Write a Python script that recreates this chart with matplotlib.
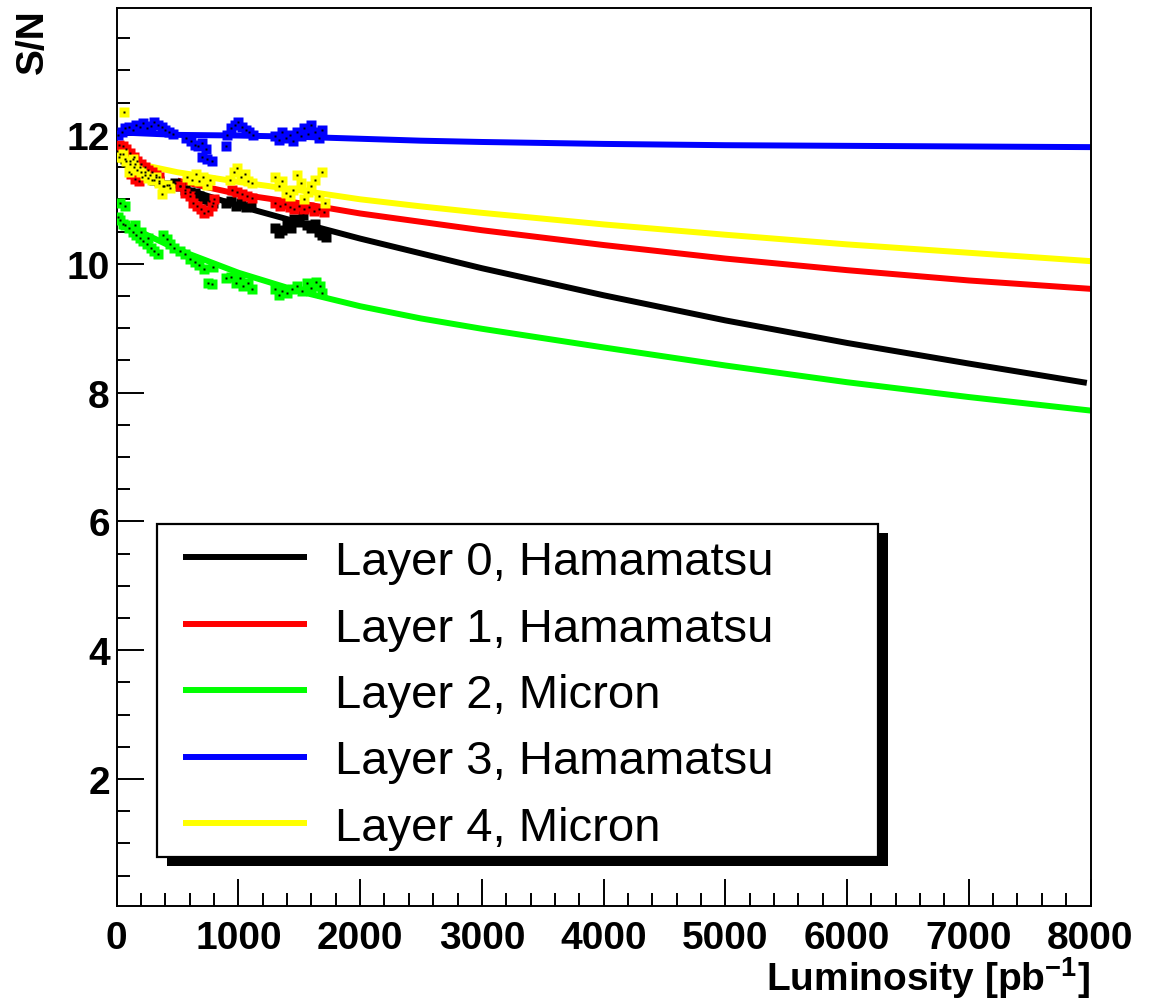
import matplotlib
matplotlib.use("Agg")
import matplotlib.pyplot as plt
from matplotlib.ticker import MultipleLocator
from matplotlib.patches import Rectangle
from matplotlib.lines import Line2D

plt.rcParams['font.family'] = ['Liberation Sans', 'DejaVu Sans']
plt.rcParams['mathtext.fontset'] = 'custom'
plt.rcParams['mathtext.rm'] = 'Liberation Sans'
plt.rcParams['mathtext.bf'] = 'Liberation Sans:bold'

# ---- measured S/N per run period ----
lumi_l0 = [30, 70, 110, 150, 190, 230, 270, 310, 350, 390, 430,
           480, 520, 560, 600, 640, 680, 720, 760, 790,
           900, 940, 980, 1020, 1060, 1100,
           1300, 1330, 1360, 1400, 1430, 1460, 1500, 1530, 1560, 1600, 1630, 1660, 1690, 1720]
sn_l0 = [11.7, 11.62, 11.6, 11.55, 11.5, 11.42, 11.38, 11.3, 11.28, 11.2, 11.22,
         11.25, 11.2, 11.15, 11.12, 11.1, 11.05, 11.0, 10.98, 10.95,
         10.95, 10.98, 10.9, 10.95, 10.88, 10.9,
         10.55, 10.48, 10.52, 10.6, 10.55, 10.7, 10.65, 10.75, 10.6, 10.55, 10.62, 10.5, 10.45, 10.42]

lumi_l1 = [20, 50, 80, 110, 140, 170, 200, 230, 260, 290, 320, 350, 120, 150, 180, 210,
           520, 560, 600, 630, 660, 690, 720, 750, 780, 800,
           950, 990, 1030, 1070, 1110,
           1300, 1340, 1380, 1420, 1460, 1500, 1540, 1580, 1620, 1660, 1700]
sn_l1 = [11.85, 11.82, 11.78, 11.72, 11.65, 11.6, 11.55, 11.5, 11.45, 11.42, 11.38, 11.35, 11.4, 11.32, 11.28, 11.35,
         11.2, 11.1, 11.05, 10.95, 10.9, 10.85, 10.78, 10.82, 10.9, 11.0,
         11.15, 11.12, 11.08, 11.05, 11.02,
         10.95, 10.9, 10.92, 10.88, 10.85, 10.9, 10.85, 10.88, 10.82, 10.85, 10.8]

lumi_l2 = [30, 70,
           10, 30, 50, 70, 100, 130, 160, 190, 220, 250, 280, 310, 340, 200, 380, 410, 440, 470, 150, 260,
           520, 560, 600, 640, 680, 720, 750, 780, 790,
           900, 940, 980, 1010, 1040, 1080, 1110,
           1300, 1330, 1360, 1400, 1440, 1480, 1520, 1560, 1600, 1640, 1670, 1690]
sn_l2 = [10.95, 10.9,
         10.72, 10.68, 10.62, 10.6, 10.55, 10.5, 10.45, 10.4, 10.35, 10.3, 10.25, 10.2, 10.15, 10.5, 10.45, 10.38, 10.3, 10.25, 10.6, 10.4,
         10.2, 10.15, 10.08, 10.02, 9.98, 9.92, 9.7, 9.68, 9.95,
         9.78, 9.8, 9.7, 9.78, 9.65, 9.7, 9.6,
         9.6, 9.52, 9.58, 9.55, 9.6, 9.65, 9.58, 9.7, 9.62, 9.72, 9.65, 9.55]

lumi_l3 = [10, 40, 70, 100, 130, 160, 190, 220, 250, 280, 310, 340, 370, 400, 430, 460,
           570, 610, 640, 670, 700, 730, 700, 740, 780, 900,
           910, 940, 970, 1000, 1030, 1060, 1090, 1120,
           1300, 1330, 1360, 1390, 1420, 1450, 1480, 1510, 1540, 1570, 1600, 1630, 1660, 1690]
sn_l3 = [12.0, 12.05, 12.1, 12.12, 12.08, 12.15, 12.12, 12.18, 12.1, 12.14, 12.2, 12.15, 12.12, 12.08, 12.05, 12.02,
         11.95, 11.9, 11.85, 11.82, 11.88, 11.78, 11.65, 11.62, 11.6, 11.82,
         12.0, 12.1, 12.15, 12.2, 12.12, 12.08, 12.05, 12.0,
         11.98, 11.92, 12.05, 11.95, 12.0, 11.9, 12.05, 11.98, 12.1, 12.02, 12.15, 12.05, 11.95, 12.08]

lumi_l4 = [60, 20, 50, 80, 110, 140, 170, 200, 230, 260, 290, 320, 350, 380, 410, 440, 370, 100, 130,
           580, 620, 650, 680, 710, 740, 770,
           930, 960, 990, 1020, 1050, 1080, 1110,
           1300, 1330, 1360, 1390, 1420, 1450, 1480, 1510, 1540, 1570, 1600, 1630, 1660, 1690, 1710]
sn_l4 = [12.35, 11.65, 11.7, 11.6, 11.55, 11.5, 11.45, 11.42, 11.38, 11.33, 11.3, 11.35, 11.25, 11.2, 11.22, 11.18, 11.08, 11.42, 11.62,
         11.35, 11.3, 11.4, 11.28, 11.35, 11.22, 11.3,
         11.3, 11.42, 11.48, 11.35, 11.4, 11.28, 11.25,
         11.35, 11.2, 11.28, 11.1, 11.05, 11.15, 11.38, 11.25, 11.0, 11.12, 11.2, 11.3, 11.05, 11.42, 10.95]

# ---- extrapolated fits ----
fit_lumi_l0 = [500, 1000, 1500, 2000, 3000, 4000, 5000, 6000, 7000, 7970]
fit_sn_l0 = [11.2, 10.9, 10.64, 10.39, 9.93, 9.51, 9.12, 8.77, 8.45, 8.15]
fit_lumi_l1 = [500, 1000, 1500, 2000, 3000, 4000, 5000, 6000, 7000, 8000]
fit_sn_l1 = [11.29, 11.08, 10.94, 10.78, 10.52, 10.29, 10.08, 9.90, 9.74, 9.61]
fit_lumi = [0, 500, 1000, 1500, 2000, 2500, 3000, 4000, 5000, 6000, 7000, 8000]
fit_sn_l2 = [10.67, 10.22, 9.86, 9.57, 9.34, 9.15, 8.99, 8.70, 8.42, 8.16, 7.93, 7.72]
fit_sn_l3 = [12.04, 12.0, 11.99, 11.97, 11.94, 11.91, 11.89, 11.86, 11.84, 11.83, 11.82, 11.81]
fit_sn_l4 = [11.62, 11.42, 11.27, 11.14, 11.0, 10.89, 10.79, 10.61, 10.45, 10.30, 10.17, 10.04]

labels = ["Layer 0, Hamamatsu", "Layer 1, Hamamatsu", "Layer 2, Micron",
          "Layer 3, Hamamatsu", "Layer 4, Micron"]
colors = ["#000000", "#ff0000", "#00ff00", "#0000ff", "#ffff00"]

data = [(lumi_l0, sn_l0), (lumi_l1, sn_l1), (lumi_l2, sn_l2), (lumi_l3, sn_l3), (lumi_l4, sn_l4)]
fits = [(fit_lumi_l0, fit_sn_l0), (fit_lumi_l1, fit_sn_l1), (fit_lumi, fit_sn_l2),
        (fit_lumi, fit_sn_l3), (fit_lumi, fit_sn_l4)]

W, H = 1152, 1004
fig = plt.figure(figsize=(W / 100, H / 100), dpi=100)


def fx(px):
    return px / W


def fy(py):
    return 1 - py / H


ax = fig.add_axes([fx(116.7), fy(906.7), fx(1090.5) - fx(116.7), fy(9) - fy(906.7)])

for (fl, fs), c in zip(fits, colors):
    ax.plot(fl, fs, color=c, lw=4.3, solid_capstyle='butt', zorder=2)

for (dl, ds), c in zip(data, colors):
    ax.plot(dl, ds, ls='none', marker='s', ms=6.5, mec='none', mfc=c, zorder=3)
    ax.plot(dl, ds, ls='none', marker='s', ms=1.6, mec='none', mfc='black', zorder=4)

ax.set_xlim(0, 8000)
ax.set_ylim(0.033, 13.97)
ax.xaxis.set_major_locator(MultipleLocator(1000))
ax.xaxis.set_minor_locator(MultipleLocator(200))
ax.yaxis.set_major_locator(MultipleLocator(2))
ax.yaxis.set_minor_locator(MultipleLocator(0.5))
ax.tick_params(which='both', direction='in', top=False, right=False, width=1.4)
ax.tick_params(which='major', length=19.5)
ax.tick_params(which='minor', length=9.5)
ax.tick_params(axis='x', which='major', pad=10, labelsize=28)
ax.tick_params(axis='y', which='major', pad=5, labelsize=28)
for lab in ax.get_xticklabels() + ax.get_yticklabels():
    lab.set_fontweight('bold')
for sp in ax.spines.values():
    sp.set_linewidth(1.4)

fig.text(fx(1090), fy(991), r'Luminosity [pb$^{\mathbf{-1}}$]', ha='right', va='baseline',
         fontsize=28, fontweight='bold')
fig.text(fx(33), fy(9), 'S/N', rotation=90, ha='center', va='top', fontsize=28, fontweight='bold')

# legend box with drop shadow
box_l, box_r, box_t, box_b = 156.5, 877.5, 524.5, 857.5
shadow = Rectangle((fx(box_l + 10), fy(box_b + 9)), fx(box_r) - fx(box_l), fy(box_t) - fy(box_b),
                   transform=fig.transFigure, facecolor='black', edgecolor='none', zorder=5)
frame = Rectangle((fx(box_l), fy(box_b)), fx(box_r) - fx(box_l), fy(box_t) - fy(box_b),
                  transform=fig.transFigure, facecolor='white', edgecolor='black', lw=1.6, zorder=6)
fig.patches.extend([shadow, frame])

row_y = [558, 624.5, 691, 757.5, 824]
for yy, c, lab in zip(row_y, colors, labels):
    fig.lines.append(Line2D([fx(183), fx(307)], [fy(yy), fy(yy)], transform=fig.transFigure,
                            color=c, lw=4.3, solid_capstyle='butt', zorder=7))
    fig.text(fx(335), fy(yy + 17), lab, ha='left', va='baseline', fontsize=34, zorder=7)

fig.savefig("out.png", dpi=100)
